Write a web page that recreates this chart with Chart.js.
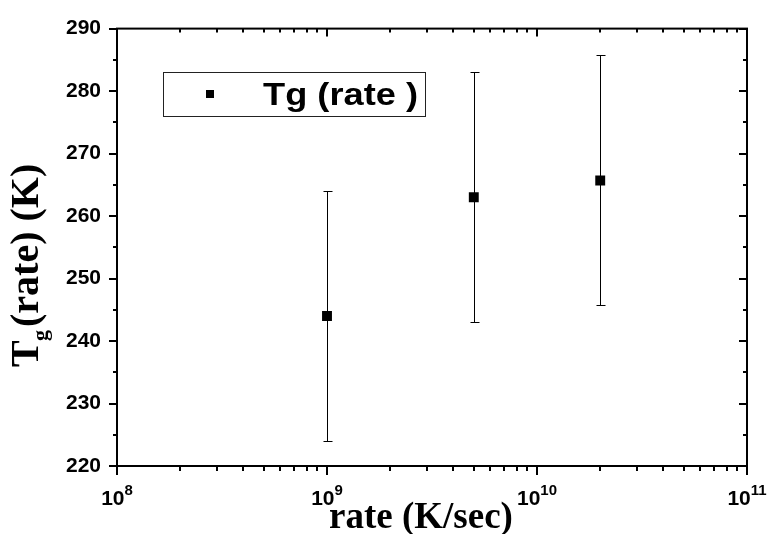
<!DOCTYPE html>
<html><head><meta charset="utf-8">
<script src="https://cdn.jsdelivr.net/npm/chart.js@4/dist/chart.umd.min.js"></script>
<style>html,body{margin:0;padding:0;background:#fff}#wrap{width:767px;height:534px}</style>
</head><body><div id="wrap"><canvas id="c" width="767" height="534"></canvas></div>
<script>
// ---- data ----
const rates = [1e9, 5e9, 2e10];
const tgValues = [244, 263, 265.7];
const tgErrors = [20, 20, 20];
const xTickValues = [1e8, 1e9, 1e10, 1e11];
const xTickExponents = ['8', '9', '10', '11'];
const yTickValues = [220, 230, 240, 250, 260, 270, 280, 290];
const seriesLabel = 'Tg (rate )';
const xTitle = 'rate (K/sec)';
const yTitleMain = 'T', yTitleSub = 'g', yTitleRest = '(rate) (K)';

const SANS = '"Liberation Sans", Arial, sans-serif';
const SERIF = '"Liberation Serif", "Times New Roman", serif';

const decorPlugin = {
  id: 'decor',
  beforeDatasetsDraw(chart) {
    const ctx = chart.ctx, xs = chart.scales.x, ys = chart.scales.y;
    ctx.save();
    ctx.strokeStyle = '#000';
    ctx.lineWidth = 1;
    rates.forEach((r, i) => {
      const px = Math.round(xs.getPixelForValue(r)) + 0.5;
      const yTop = Math.round(ys.getPixelForValue(tgValues[i] + tgErrors[i])) + 0.5;
      const yBot = Math.round(ys.getPixelForValue(tgValues[i] - tgErrors[i])) + 0.5;
      ctx.beginPath();
      ctx.moveTo(px, yTop); ctx.lineTo(px, yBot);
      ctx.moveTo(px - 4, yTop); ctx.lineTo(px + 5, yTop);
      ctx.moveTo(px - 4, yBot); ctx.lineTo(px + 5, yBot);
      ctx.stroke();
    });
    ctx.restore();
  },
  afterDraw(chart) {
    const ctx = chart.ctx, xs = chart.scales.x, ys = chart.scales.y;
    const a = chart.chartArea;
    const L = a.left, R = a.right, T = a.top, B = a.bottom;
    ctx.save();
    ctx.strokeStyle = '#000';
    ctx.fillStyle = '#000';
    // frame
    ctx.lineWidth = 2;
    ctx.strokeRect(L, T, R - L, B - T);
    // y ticks
    const yMin = ys.min, yMax = ys.max;
    for (let v = yMin; v <= yMax + 1e-9; v += 5) {
      const major = Math.abs(v % 10) < 1e-9;
      const py = Math.round(ys.getPixelForValue(v));
      const len = major ? 8 : 4;
      ctx.beginPath();
      ctx.moveTo(L, py); ctx.lineTo(L - len, py);
      ctx.moveTo(R, py); ctx.lineTo(R - len, py);
      ctx.stroke();
    }
    // x ticks (log)
    for (let e = 8; e <= 11; e++) {
      for (let k = 1; k <= 9; k++) {
        const v = k * Math.pow(10, e);
        if (v > xs.max * 1.0001) break;
        const major = k === 1;
        const px = Math.round(xs.getPixelForValue(v));
        const lenOut = major ? 9 : 5;
        const lenIn = major ? 8 : 4;
        ctx.beginPath();
        ctx.moveTo(px, B); ctx.lineTo(px, B + lenOut);
        ctx.moveTo(px, T); ctx.lineTo(px, T + lenIn);
        ctx.stroke();
      }
    }
    // x tick labels 10^n
    const baseFont = 'bold 21px ' + SANS, expFont = 'bold 15px ' + SANS;
    xTickValues.forEach((v, i) => {
      const px = xs.getPixelForValue(v);
      ctx.font = baseFont;
      const wb = ctx.measureText('10').width;
      ctx.font = expFont;
      const we = ctx.measureText(xTickExponents[i]).width;
      const x0 = px - (wb + we) / 2;
      ctx.textAlign = 'left'; ctx.textBaseline = 'alphabetic';
      ctx.font = baseFont;
      ctx.fillText('10', x0, 505);
      ctx.font = expFont;
      ctx.fillText(xTickExponents[i], x0 + wb, 495);
    });
    // x title
    ctx.font = 'bold 37px ' + SERIF;
    ctx.textAlign = 'center'; ctx.textBaseline = 'alphabetic';
    ctx.fillText(xTitle, 421, 528);
    // y title (rotated)
    ctx.save();
    ctx.translate(38, 367);
    ctx.rotate(-Math.PI / 2);
    ctx.textAlign = 'left'; ctx.textBaseline = 'alphabetic';
    ctx.font = 'bold 40px ' + SERIF;
    ctx.fillText(yTitleMain, 0, 0);
    ctx.font = 'bold 22px ' + SERIF;
    ctx.fillText(yTitleSub, 26, 9);
    ctx.font = 'bold 40px ' + SERIF;
    ctx.fillText(yTitleRest, 40, 0);
    ctx.restore();
    // legend
    ctx.lineWidth = 1;
    ctx.strokeStyle = '#222';
    ctx.strokeRect(163.5, 72.5, 262, 44);
    ctx.fillStyle = '#000';
    ctx.fillRect(206, 90, 8, 8);
    ctx.font = 'bold 32px ' + SANS;
    const tw = ctx.measureText(seriesLabel).width;
    const sx = 155 / tw;
    ctx.save();
    ctx.translate(263, 105);
    ctx.scale(sx, 1);
    ctx.textAlign = 'left'; ctx.textBaseline = 'alphabetic';
    ctx.fillText(seriesLabel, 0, 0);
    ctx.restore();
    ctx.restore();
  }
};

new Chart(document.getElementById('c'), {
  type: 'scatter',
  data: {
    datasets: [{
      label: seriesLabel,
      data: rates.map((r, i) => ({ x: r, y: tgValues[i] })),
      pointStyle: 'rect',
      pointRadius: 7,
      pointHoverRadius: 7,
      backgroundColor: '#000',
      borderColor: '#000',
      borderWidth: 0,
      showLine: false
    }]
  },
  options: {
    responsive: false,
    animation: false,
    devicePixelRatio: 1,
    layout: { padding: { top: 25, right: 20, left: 0, bottom: 0 } },
    plugins: { legend: { display: false }, tooltip: { enabled: false } },
    scales: {
      x: {
        type: 'logarithmic',
        min: 1e8, max: 1e11,
        grid: { display: false, drawTicks: false },
        border: { display: false },
        ticks: { display: false },
        afterFit(s) { s.height = 68; }
      },
      y: {
        type: 'linear',
        min: 220, max: 290,
        grid: { display: false, drawTicks: false },
        border: { display: false },
        afterBuildTicks(s) { s.ticks = yTickValues.map(v => ({ value: v })); },
        ticks: {
          color: '#000',
          padding: 16,
          font: { family: SANS, size: 21, weight: 'bold' }
        },
        afterFit(s) { s.width = 117; }
      }
    }
  },
  plugins: [decorPlugin]
});
</script>
</body></html>
